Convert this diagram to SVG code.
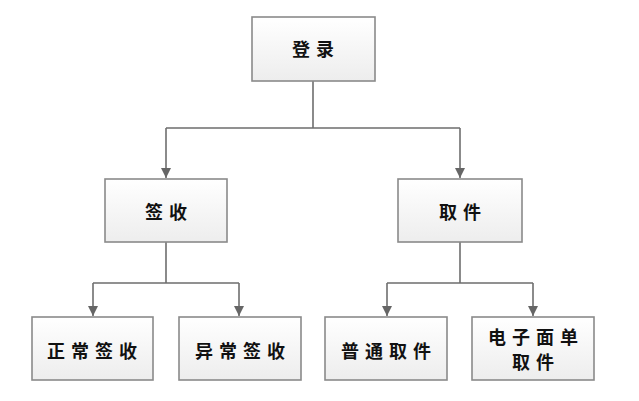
<svg xmlns="http://www.w3.org/2000/svg" width="639" height="401" viewBox="0 0 639 401">
<defs>
<linearGradient id="g" x1="0" y1="0" x2="0" y2="1">
<stop offset="0" stop-color="#ffffff"/>
<stop offset="1" stop-color="#ededed"/>
</linearGradient>
<marker id="arr" viewBox="0 0 10 10" refX="10" refY="5" markerWidth="10" markerHeight="10" markerUnits="userSpaceOnUse" orient="auto">
<path d="M0,0 L10,5 L0,10 z" fill="#666"/>
</marker>
</defs>
<style>
.box{fill:url(#g);stroke:#8a8a8a;stroke-width:1.6}
.t{font-family:"Noto Sans CJK SC","Noto Sans CJK JP",sans-serif;font-size:18px;font-weight:bold;fill:#111;text-anchor:middle;letter-spacing:6px}
.c{fill:none;stroke:#6e6e6e;stroke-width:1.6}
</style>
<rect width="639" height="401" fill="#fff"/>
<g id="connectors">
<path class="c" d="M313,81 V128 M166,128 H460"/>
<path class="c" d="M166,128 V178" marker-end="url(#arr)"/>
<path class="c" d="M460,128 V178" marker-end="url(#arr)"/>
<path class="c" d="M166,242 V283 M93,283 H239"/>
<path class="c" d="M93,283 V316" marker-end="url(#arr)"/>
<path class="c" d="M239,283 V316" marker-end="url(#arr)"/>
<path class="c" d="M460,242 V283 M387,283 H533"/>
<path class="c" d="M387,283 V316" marker-end="url(#arr)"/>
<path class="c" d="M533,283 V316" marker-end="url(#arr)"/>
</g>
<g id="n-login">
<rect class="box" x="252" y="17" width="123" height="64"/>
<text class="t" x="316" y="56">登录</text>
</g>
<g id="n-sign">
<rect class="box" x="105" y="179" width="122" height="63"/>
<text class="t" x="169" y="219">签收</text>
</g>
<g id="n-pick">
<rect class="box" x="398" y="179" width="124" height="63"/>
<text class="t" x="463" y="219">取件</text>
</g>
<g id="n-normal-sign">
<rect class="box" x="32" y="317" width="121" height="63"/>
<text class="t" x="95" y="358">正常签收</text>
</g>
<g id="n-abnormal-sign">
<rect class="box" x="179" y="317" width="122" height="63"/>
<text class="t" x="243" y="358">异常签收</text>
</g>
<g id="n-normal-pick">
<rect class="box" x="325" y="317" width="122" height="63"/>
<text class="t" x="389" y="358">普通取件</text>
</g>
<g id="n-esheet-pick">
<rect class="box" x="472" y="317" width="122" height="63"/>
<text class="t" x="536" y="344">电子面单</text>
<text class="t" x="536" y="369">取件</text>
</g>
</svg>
